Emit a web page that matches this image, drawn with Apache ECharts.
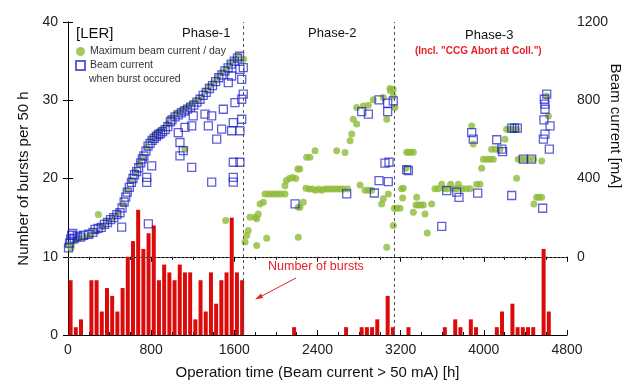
<!DOCTYPE html>
<html>
<head>
<meta charset="utf-8">
<script src="https://cdn.jsdelivr.net/npm/echarts@6/dist/echarts.min.js"></script>
<style>
  html, body { margin: 0; padding: 0; background: #fff; }
  #chart { width: 624px; height: 385px; }
</style>
</head>
<body>
<div id="chart"></div>
<script>
// bursts per 50 h bin, phase-1 bins start at 0 h
const binWidth = 50
const phase1Bursts = [7,1,2,0,7,7,3,6,5,3,6,10,12,16,11,13,14,7,9,8,7,9,8,8,2,7,3,8,4,7,8,15,8,7]
// later bins: [bin start h, count]
const laterBursts = [[2150,1],[2650,1],[2800,1],[2850,1],[2900,1],[2950,2],[3050,5],[3100,1],[3250,1],
  [3600,1],[3700,2],[3750,1],[3850,2],[3900,1],[4100,1],[4150,3],[4250,4],[4300,1],[4350,1],[4400,1],
  [4450,1],[4550,11],[4600,3]]

// maximum beam current / day [h, mA]
const maxCurrentP1 = [[0,60],[30,45],[70,80],[110,95],[160,100],[210,110],[260,130],[292,216],[330,155],
  [380,180],[430,200],[480,225],[530,270],[570,340],[610,390],[650,435],[690,475],[720,510],[760,560],
  [800,600],[840,625],[880,640],[920,655],[960,680],[1000,710],[1040,730],[1080,745],[1120,755],[1125,550],
  [1160,770],[1200,785],[1240,800],[1280,815],[1320,845],[1360,870],[1400,890],[1440,915],[1480,940],
  [1517,185],[1520,960],[1560,985],[1600,1005],[1640,1025],[1690,1010]]
const maxCurrentP2 = [[1703,75],[1719,109],[1734,134],[1751,202],[1799,202],[1815,194],[1831,219],[1815,58],
  [1847,270],[1879,279],[1895,321],[1930,321],[1960,321],[1990,321],[2020,321],[2050,321],[2087,321],
  [1911,95],[2087,363],[2100,390],[2130,400],[2160,405],[2190,400],[2210,448],[2230,448],[2215,100],
  [2215,253],[2231,253],[2263,279],[2295,508],[2327,508],[2376,542],[2289,350],[2320,346],[2350,346],
  [2380,340],[2410,346],[2440,340],[2470,346],[2500,346],[2530,346],[2560,346],[2590,346],[2620,346],
  [2650,346],[2690,346],[2584,542],[2665,533],[2713,593],[2729,627],[2744,703],[2777,678],[2777,763],
  [2809,367],[2841,771],[2857,340],[2889,775],[2890,340],[2921,340],[2937,802],[3017,270],[3033,296],
  [3033,814],[3066,703],[3066,49],[3081,321],[3097,860],[3102,848],[3129,160],[3145,763]]
const maxCurrentP3 = [[3129,855],[3129,820],[3140,248],[3165,248],[3194,248],[3209,347],[3219,300],[3225,350],
  [3251,452],[3258,534],[3274,534],[3298,534],[3322,534],[3322,228],[3347,265],[3354,304],[3370,265],
  [3395,265],[3418,265],[3434,219],[3456,122],[3498,270],[3530,347],[3560,347],[3595,370],[3620,347],
  [3650,347],[3680,370],[3710,347],[3740,347],[3755,370],[3790,347],[3830,347],[3867,347],[3883,669],
  [3899,576],[3931,370],[3963,370],[3979,452],[3995,499],[4030,499],[4060,499],[4091,499],[4075,550],
  [4110,550],[4155,550],[4203,601],[4219,652],[4250,652],[4285,652],[4315,652],[4315,401],[4331,499],
  [4360,499],[4395,499],[4430,499],[4476,499],[4556,489],[4508,304],[4530,304],[4556,304],[4482,270],
  [4605,822],[4621,720]]

// beam current when burst occurred [h, mA]
const burstCurrentP1 = [[5,45],[15,70],[25,90],[35,110],[45,120],[60,95],[90,105],[120,100],[150,110],
  [200,115],[240,125],[260,140],[290,145],[320,150],[350,165],[380,175],[410,190],[440,200],[470,215],
  [500,225],[520,250],[540,280],[555,305],[570,330],[590,355],[610,380],[625,400],[640,420],[660,435],
  [680,455],[700,480],[715,500],[730,515],[750,540],[770,565],[790,580],[810,595],[830,605],[850,615],
  [870,625],[890,630],[910,640],[935,650],[960,665],[985,690],[1000,700],[1030,715],[1060,725],[1090,735],
  [1120,745],[1150,755],[1180,765],[1210,775],[1240,790],[1270,805],[1300,825],[1330,840],[1360,860],
  [1390,875],[1420,895],[1450,915],[1480,930],[1510,950],[1540,965],[1570,985],[1600,1000],[1630,1015],
  [1650,1025],
  [516,151],[773,168],[757,406],[757,380],[805,465],[1061,635],[1077,584],[1077,516],[1109,542],[1125,661],
  [1190,669],[1190,457],[1205,720],[1318,729],[1382,720],[1350,669],[1382,381],[1430,601],[1478,652],
  [1494,754],[1574,644],[1590,686],[1654,644],[1671,703],[1606,788],[1671,805],[1686,831],[1671,907],
  [1654,958],[1686,967],[1590,483],[1654,483],[1590,406],[1590,381],[1574,924],[1542,890]]
const burstCurrentP2 = [[2184,270],[2681,321],[2825,742],[2889,729],[2992,802],[3075,785],[3075,742],
  [3129,797],[2947,326],[2992,389],[3081,384],[3049,479],[3088,483]]
const burstCurrentP3 = [[3258,445],[3274,440],[3595,155],[3643,338],[3739,330],[3761,304],[3941,325],
  [3883,635],[3899,601],[4124,598],[4172,550],[4181,537],[4268,657],[4295,657],[4322,657],[4268,313],
  [4380,499],[4460,499],[4566,248],[4573,601],[4588,627],[4578,700],[4588,754],[4582,805],[4605,831],
  [4588,780],[4637,669],[4630,550]]

const phaseEdges = [1690, 3140]

const burstData = phase1Bursts.map((v, i) => [i * binWidth + binWidth / 2, v])
  .concat(laterBursts.map(d => [d[0] + binWidth / 2, d[1]]))

const font = 'Liberation Sans, Arial, sans-serif'
const red = '#e8202a'
const axisCommon = {
  axisLine: { show: true, lineStyle: { color: '#000', width: 1 } },
  axisTick: { show: true, inside: true, length: 5, lineStyle: { color: '#000' } },
  splitLine: { show: false },
  axisLabel: { fontSize: 14, color: '#222', fontFamily: font, formatter: v => String(v) }
}

const chart = echarts.init(document.getElementById('chart'))
chart.setOption({
  animation: false,
  backgroundColor: '#fff',
  grid: { left: 68, right: 57, top: 22, bottom: 49 },
  legend: {
    orient: 'vertical', left: 75, top: 46, padding: 0,
    itemWidth: 9, itemHeight: 9, itemGap: 3,
    textStyle: { fontSize: 10.5, color: '#333', fontFamily: font },
    data: ['Maximum beam current / day', 'Beam current']
  },
  xAxis: [
    Object.assign({}, axisCommon, {
      type: 'value', min: 0, max: 4800, interval: 800, position: 'bottom',
      minorTick: { show: true, splitNumber: 4, length: 3, lineStyle: { color: '#000' } },
      name: 'Operation time (Beam current > 50 mA) [h]', nameLocation: 'middle', nameGap: 30,
      nameTextStyle: { fontSize: 15, color: '#111', fontFamily: font }
    }),
    Object.assign({}, axisCommon, {
      type: 'value', min: 0, max: 4800, interval: 800, position: 'top',
      minorTick: { show: true, splitNumber: 4, length: 3, lineStyle: { color: '#000' } },
      axisLabel: { show: false }
    })
  ],
  yAxis: [
    Object.assign({}, axisCommon, {
      type: 'value', min: 0, max: 40, interval: 10, position: 'left',
      axisLabel: Object.assign({}, axisCommon.axisLabel, { margin: 10 }),
      name: 'Number of bursts per 50 h', nameLocation: 'middle', nameGap: 36,
      nameTextStyle: { fontSize: 15, color: '#111', fontFamily: font }
    }),
    Object.assign({}, axisCommon, {
      type: 'value', min: -400, max: 1200, interval: 400, position: 'right',
      axisLabel: Object.assign({}, axisCommon.axisLabel, {
        margin: 10, formatter: v => (v < 0 ? '' : String(v))
      })
    })
  ],
  graphic: [
    { type: 'text', left: 76, top: 26, style: { text: '[LER]', fontSize: 15, fill: '#111', fontFamily: font } },
    { type: 'text', left: 182, top: 27, style: { text: 'Phase-1', fontSize: 13, fill: '#111', fontFamily: font } },
    { type: 'text', left: 308, top: 27, style: { text: 'Phase-2', fontSize: 13, fill: '#111', fontFamily: font } },
    { type: 'text', left: 465, top: 29, style: { text: 'Phase-3', fontSize: 13, fill: '#111', fontFamily: font } },
    { type: 'text', left: 415, top: 46, style: { text: '(Incl. "CCG Abort at Coll.")', fontSize: 10, fontWeight: 'bold', fill: red, fontFamily: font } },
    { type: 'text', left: 89, top: 74, style: { text: 'when burst occured', fontSize: 10.5, fill: '#333', fontFamily: font } },
    { type: 'text', left: 268, top: 260, style: { text: 'Number of bursts', fontSize: 12.5, fill: red, fontFamily: font } },
    { type: 'line', shape: { x1: 296, y1: 278, x2: 258, y2: 298 }, style: { stroke: red, lineWidth: 1 } },
    { type: 'polygon', shape: { points: [[255, 299.5], [261, 293.5], [263, 298]] }, style: { fill: red } },
    { type: 'text', x: 615, y: 126, rotation: -Math.PI / 2,
      style: { text: 'Beam current [mA]', fontSize: 15, fill: '#111', fontFamily: font, align: 'center', verticalAlign: 'middle' } }
  ],
  series: [
    {
      name: 'Number of bursts', type: 'bar', xAxisIndex: 0, yAxisIndex: 0,
      data: burstData, barWidth: 4, z: 1,
      itemStyle: { color: '#dd0a0a' },
      markLine: {
        silent: true, symbol: 'none', label: { show: false },
        lineStyle: { color: '#555', type: [3, 3], width: 1 },
        data: [{ xAxis: phaseEdges[0] }, { xAxis: phaseEdges[1] },
          { yAxis: 10, lineStyle: { color: '#555', type: [2, 2], width: 1 } }]
      }
    },
    {
      name: 'Maximum beam current / day', type: 'scatter', xAxisIndex: 0, yAxisIndex: 1,
      data: maxCurrentP1.concat(maxCurrentP2, maxCurrentP3),
      symbol: 'circle', symbolSize: 7, z: 2,
      itemStyle: { color: '#8fbc3a' }
    },
    {
      name: 'Beam current', type: 'scatter', xAxisIndex: 0, yAxisIndex: 1,
      data: burstCurrentP1.concat(burstCurrentP2, burstCurrentP3),
      symbol: 'rect', symbolSize: 8, z: 3,
      itemStyle: { color: 'rgba(0,0,0,0)', borderColor: 'rgba(20,20,200,0.85)', borderWidth: 1.3 }
    }
  ]
})
</script>
</body>
</html>
